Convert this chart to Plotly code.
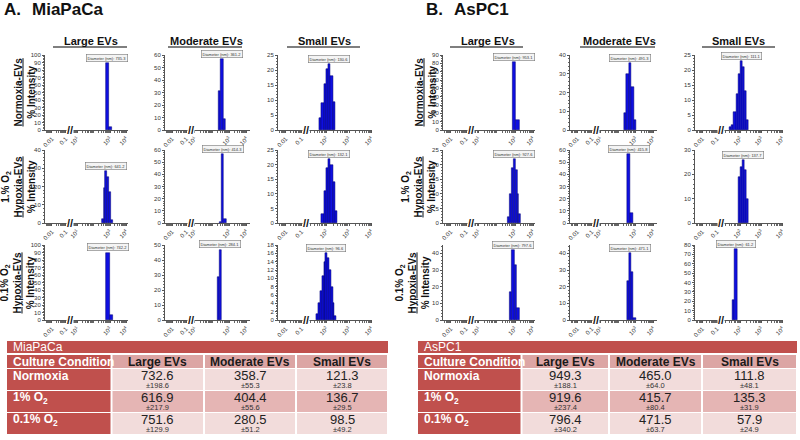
import numpy as np
import plotly.graph_objects as go

# %%
# DLS size distributions: bin centre (nm) and % intensity
mia_norm_large_nm = [690, 1080]
mia_norm_large_pct = [90, 4]
mia_norm_mod_nm = [270, 372, 513]
mia_norm_mod_pct = [31, 57, 9]
mia_norm_small_nm = [54, 68, 86, 108, 136, 171, 215]
mia_norm_small_pct = [4, 9, 15.5, 20.5, 22, 18, 9.5]

mia_hyp1_large_nm = [345, 455, 600, 790, 1045, 1380]
mia_hyp1_large_pct = [2, 19, 28.5, 25, 17, 1.5]
mia_hyp1_mod_nm = [300, 414, 571]
mia_hyp1_mod_pct = [1, 57, 3]
mia_hyp1_small_nm = [68, 86, 108, 136, 171, 215, 271]
mia_hyp1_small_pct = [3, 11, 19, 22, 20, 14, 4]

mia_hyp01_large_nm = [740, 1190]
mia_hyp01_large_pct = [90, 7]
mia_hyp01_mod_nm = [225, 300]
mia_hyp01_mod_pct = [29, 47]
mia_hyp01_small_nm = [40, 48, 58, 70, 84, 100, 120, 145, 174, 209, 251]
mia_hyp01_small_pct = [1.5, 4, 7, 10.5, 14, 16, 15, 12, 8, 4, 1]

aspc_norm_large_nm = [900, 1400]
aspc_norm_large_pct = [82, 12]
aspc_norm_mod_nm = [250, 345, 475, 655, 905]
aspc_norm_mod_pct = [9, 30, 35.5, 23, 5.3]
aspc_norm_small_nm = [34.8, 43.8, 55.2, 69.5, 87.5, 110, 139, 175, 220]
aspc_norm_small_pct = [0.9, 1.6, 5.9, 11.9, 18.6, 22.9, 21, 13, 3.5]

aspc_hyp1_large_nm = [462, 582, 733, 923, 1163, 1465, 1846]
aspc_hyp1_large_pct = [2, 10, 19, 22, 18, 10, 3]
aspc_hyp1_mod_nm = [400, 590]
aspc_hyp1_mod_pct = [57, 8]
aspc_hyp1_small_nm = [86, 108, 137, 172, 217]
aspc_hyp1_small_pct = [18.9, 23.2, 26, 21.9, 9.8]

aspc_hyp01_large_nm = [590, 797, 1076, 1452]
aspc_hyp01_large_pct = [17, 42, 33, 7]
aspc_hyp01_mod_nm = [350, 471, 636, 860]
aspc_hyp01_mod_pct = [23.5, 40, 28.6, 1.4]
aspc_hyp01_small_nm = [48.5, 61.2]
aspc_hyp01_small_pct = [21, 75.5]

# peak labels printed by the instrument
mia_peak_labels = [[735.3, 361.2, 130.6], [641.2, 414.3, 132.1], [742.2, 284.1, 96.6]]
aspc_peak_labels = [[953.1, 491.3, 111.1], [927.6, 415.8, 137.7], [797.6, 471.1, 61.2]]

# table values (mean diameter nm, sd)
conditions = ["Normoxia", "1% O<sub>2</sub>", "0.1% O<sub>2</sub>"]
ev_types = ["Large EVs", "Moderate EVs", "Small EVs"]
mia_mean = [[732.6, 358.7, 121.3], [616.9, 404.4, 136.7], [751.6, 280.5, 98.5]]
mia_sd = [[198.6, 55.3, 23.8], [217.9, 55.6, 29.5], [129.9, 51.2, 49.2]]
aspc_mean = [[949.3, 465.0, 111.8], [919.6, 415.7, 135.3], [796.4, 471.5, 57.9]]
aspc_sd = [[188.1, 64.0, 48.1], [237.4, 80.4, 31.9], [340.2, 63.7, 24.9]]

row_labels = [
    "<b><u>Normoxia-EVs</u></b><br><b>% Intensity</b>",
    "<b>1.% O<sub>2</sub></b><br><b><u>Hypoxia-EVs</u></b><br><b>% Intensity</b>",
    "<b>0.1% O<sub>2</sub></b><br><b><u>Hypoxia-EVs</u></b><br><b>% Intensity</b>",
]

# %%
mia_hist = [
    [(mia_norm_large_nm, mia_norm_large_pct), (mia_norm_mod_nm, mia_norm_mod_pct), (mia_norm_small_nm, mia_norm_small_pct)],
    [(mia_hyp1_large_nm, mia_hyp1_large_pct), (mia_hyp1_mod_nm, mia_hyp1_mod_pct), (mia_hyp1_small_nm, mia_hyp1_small_pct)],
    [(mia_hyp01_large_nm, mia_hyp01_large_pct), (mia_hyp01_mod_nm, mia_hyp01_mod_pct), (mia_hyp01_small_nm, mia_hyp01_small_pct)],
]
aspc_hist = [
    [(aspc_norm_large_nm, aspc_norm_large_pct), (aspc_norm_mod_nm, aspc_norm_mod_pct), (aspc_norm_small_nm, aspc_norm_small_pct)],
    [(aspc_hyp1_large_nm, aspc_hyp1_large_pct), (aspc_hyp1_mod_nm, aspc_hyp1_mod_pct), (aspc_hyp1_small_nm, aspc_hyp1_small_pct)],
    [(aspc_hyp01_large_nm, aspc_hyp01_large_pct), (aspc_hyp01_mod_nm, aspc_hyp01_mod_pct), (aspc_hyp01_small_nm, aspc_hyp01_small_pct)],
]

W, H = 800, 440
FONT = "Arial, Liberation Sans, sans-serif"
RED = "#c0504d"


def px(x):
    return x / W


def py(y):
    return 1 - y / H


def note(x, y, text, size, color="#111", xanchor="center", **kw):
    # paper-positioned text, given in pixels from the top-left corner
    annotations.append(dict(
        x=px(x), y=py(y), xref="paper", yref="paper", text=text, showarrow=False,
        xanchor=xanchor, yanchor="middle", font=dict(size=size, color=color, family=FONT), **kw,
    ))


def bin_edges(centres):
    lc = np.log10(centres)
    mids = (lc[1:] + lc[:-1]) / 2
    e = np.concatenate([[2 * lc[0] - mids[0]], mids, [2 * lc[-1] - mids[-1]]])
    e = 10 ** e
    return e[:-1], e[1:] - e[:-1]


# panel geometry (pixels)
panel_sets = [
    dict(hist=mia_hist, peaks=mia_peak_labels,
         cols=[(45, 128), (165, 250), (278, 372)],
         ymax=[[100, 60, 25], [40, 60, 25], [100, 50, 18]],
         ydt=[[10, 10, 5], [10, 10, 5], [10, 10, 2]],
         label_x=[25, 18, 17]),
    dict(hist=aspc_hist, peaks=aspc_peak_labels,
         cols=[(443, 535), (570, 657), (695, 783)],
         ymax=[[90, 40, 25], [25, 60, 30], [45, 45, 80]],
         ydt=[[10, 10, 5], [5, 10, 10], [10, 10, 10]],
         label_x=[426, 418, 412]),
]
rows_y = [(55, 130), (150, 223), (245, 320)]
right_range = [[0.55, 4.1], [0.75, 4.2], [1.1, 4.02]]
right_ticks = [[10, 1000, 10000], [10, 1000, 10000], [100, 1000, 10000]]
sup = {10: "10<sup>1</sup>", 100: "10<sup>2</sup>", 1000: "10<sup>3</sup>", 10000: "10<sup>4</sup>"}
BREAK = 0.3

fig = go.Figure()
layout_axes = {}
annotations = []
shapes = []
tickfont = dict(size=6, color="#333", family=FONT)

k = 0
for ps in panel_sets:
    for r, (yt, yb) in enumerate(rows_y):
        for c, (x0, x1) in enumerate(ps["cols"]):
            nm, pct = ps["hist"][r][c]
            xb = x0 + BREAK * (x1 - x0)
            iy = k + 1
            ixr, ixl = 2 * k + 1, 2 * k + 2
            yref = "y" if iy == 1 else f"y{iy}"
            xrref = "x" if ixr == 1 else f"x{ixr}"
            xlref = f"x{ixl}"
            yname = "yaxis" if iy == 1 else f"yaxis{iy}"
            xrname = "xaxis" if ixr == 1 else f"xaxis{ixr}"
            xlname = f"xaxis{ixl}"

            left, width = bin_edges(nm)
            fig.add_trace(go.Bar(
                x=left, y=pct, width=width, offset=0,
                xaxis=xrref, yaxis=yref,
                marker=dict(color="rgb(15,15,225)", line=dict(color="rgb(0,0,110)", width=0.5)),
                showlegend=False, hoverinfo="skip",
            ))
            fig.add_trace(go.Scatter(
                x=[0.05], y=[-10], xaxis=xlref, yaxis=yref, mode="markers",
                marker=dict(opacity=0), showlegend=False, hoverinfo="skip",
            ))

            common_x = dict(
                type="log", anchor=yref, showline=True, linecolor="#555", linewidth=1,
                ticks="outside", ticklen=2, tickcolor="#555", tickangle=-45,
                tickfont=tickfont, showgrid=False, zeroline=False, automargin=False,
                minor=dict(ticks="outside", ticklen=1.5, tickwidth=0.5, tickcolor="#666", dtick="D1"),
            )
            layout_axes[xrname] = dict(
                common_x, domain=[px(xb), px(x1)], range=right_range[c],
                tickmode="array", tickvals=right_ticks[c],
                ticktext=[sup[v] for v in right_ticks[c]],
            )
            layout_axes[xlname] = dict(
                common_x, domain=[px(x0), px(xb)], range=[-2.5, -0.7],
                tickmode="array", tickvals=[0.01, 0.1], ticktext=["0.01", "0.1"],
            )
            ymax, ydt = ps["ymax"][r][c], ps["ydt"][r][c]
            layout_axes[yname] = dict(
                domain=[py(yb), py(yt)], anchor=xlref, range=[0, ymax],
                dtick=ydt, tick0=0, showline=True, linecolor="#555", linewidth=1,
                ticks="outside", ticklen=2, tickcolor="#555", tickfont=tickfont,
                showgrid=False, zeroline=False, automargin=False,
                minor=dict(ticks="outside", ticklen=1.5, tickwidth=0.5, tickcolor="#666", dtick=ydt / 5),
            )

            # instrument peak label
            ipk = int(np.argmax(pct))
            annotations.append(dict(
                x=np.log10(nm[ipk]), y=pct[ipk], xref=xrref, yref=yref,
                text=f"Diameter (nm): {ps['peaks'][r][c]}", showarrow=False,
                xanchor="center", yanchor="bottom", yshift=1,
                font=dict(size=4, color="#333", family=FONT),
                bgcolor="#f4f4f4", bordercolor="#777", borderwidth=0.6, borderpad=1,
            ))
            # axis break mark
            note(xb, yb, "<b>//</b>", 11, "#111", bgcolor="white", borderpad=0)
            k += 1

        note(ps["label_x"][r], (yt + yb) / 2, row_labels[r], 10, textangle=-90)

# column headers with rules
col_heads = [(91, 53, 127), (206, 168, 242), (324, 287, 360),
             (488, 450, 523), (619, 580, 655), (738, 702, 775)]
for i, (xc, xa, xz) in enumerate(col_heads):
    note(xc, 41, f"<b>{ev_types[i % 3]}</b>", 11)
    shapes.append(dict(type="line", xref="paper", yref="paper", x0=px(xa), x1=px(xz),
                       y0=py(47), y1=py(47), line=dict(color="#555", width=1.5)))

for txt, x in [("A.", 2), ("MiaPaCa", 30), ("B.", 424), ("AsPC1", 452)]:
    note(x, 10, f"<b>{txt}</b>", 17, xanchor="left")

# %%
# summary tables
tables = [
    dict(name="MiaPaCa", mean=mia_mean, sd=mia_sd, xs=[7, 111.5, 204, 296, 388]),
    dict(name="AsPC1", mean=aspc_mean, sd=aspc_sd, xs=[418, 521.5, 609, 702, 797]),
]
head_y = (355, 368)
body_y = [(369, 390), (391, 412), (413, 434)]
light, mid, head_pink = "#f2dcdb", "#e5b5b4", "#dca5a4"


def rect(x0, x1, y0, y1, color):
    shapes.append(dict(type="rect", xref="paper", yref="paper", x0=px(x0), x1=px(x1),
                       y0=py(y1), y1=py(y0), fillcolor=color, line=dict(width=0), layer="below"))


for t in tables:
    xs = t["xs"]
    rect(xs[0], xs[-1], 341, 353, RED)
    note(xs[0] + 4, 347, t["name"], 12, "white", xanchor="left")
    for j in range(4):
        cx0 = xs[j] + (1 if j > 0 else 0)
        cx1 = xs[j + 1] - 1
        rect(cx0, cx1, head_y[0], head_y[1], RED if j == 0 else head_pink)
        if j == 0:
            note(cx0 + 4, 361.5, "<b>Culture Condition</b>", 12, "white", xanchor="left")
        else:
            note((cx0 + cx1) / 2, 361.5, f"<b>{ev_types[j - 1]}</b>", 12, "#1a1a1a")
        for i, (ry0, ry1) in enumerate(body_y):
            fill = RED if j == 0 else (mid if i == 1 else light)
            rect(cx0, cx1, ry0, ry1, fill)
            if j == 0:
                note(cx0 + 4, ry0 + 7, f"<b>{conditions[i]}</b>", 12, "white", xanchor="left")
            else:
                note((cx0 + cx1) / 2, ry0 + 6.5, f"{t['mean'][i][j - 1]:.1f}", 13, "#222")
                note((cx0 + cx1) / 2, ry0 + 16.5, f"±{t['sd'][i][j - 1]:.1f}", 7.5, "#333")

fig.update_layout(
    width=W, height=H, margin=dict(l=0, r=0, t=0, b=0, autoexpand=False),
    paper_bgcolor="white", plot_bgcolor="white",
    font=dict(family=FONT), bargap=0,
    annotations=annotations, shapes=shapes,
    **layout_axes,
)
# the page keeps the browser's default 8px body margin otherwise
fig.write_html(
    "out.html",
    config={"displayModeBar": False},
    post_script="document.body.style.margin = '0';",
)
